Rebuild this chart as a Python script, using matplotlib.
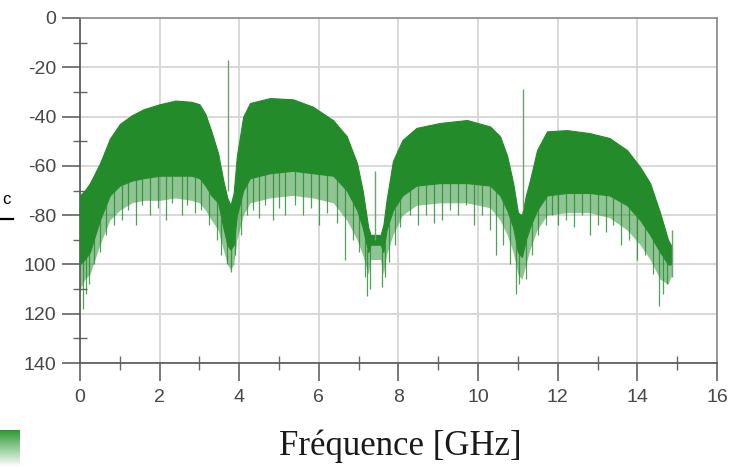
import numpy as np
import matplotlib
matplotlib.use("Agg")
import matplotlib.pyplot as plt
from matplotlib.lines import Line2D
from matplotlib.colors import LinearSegmentedColormap
from matplotlib.ticker import MultipleLocator, FixedLocator, FixedFormatter

# ---------------- data ----------------
freq_ghz = [0.0, 0.12, 0.25, 0.5, 0.75, 1.0, 1.3, 1.6, 2.0, 2.4, 2.8, 3.0, 3.15, 3.3,
            3.47, 3.6, 3.7, 3.78, 3.86, 3.94, 4.1, 4.27, 4.77, 5.35, 5.85, 6.36, 6.7,
            6.96, 7.1, 7.24, 7.3, 7.55, 7.62, 7.7, 7.86, 8.1, 8.45, 9.04, 9.72, 10.3,
            10.55, 10.73, 10.88, 11.0, 11.1, 11.2, 11.3, 11.48, 11.73, 12.23, 12.8,
            13.3, 13.74, 14.07, 14.32, 14.57, 14.77, 14.87]
upper_db = [-72, -70, -67, -59, -49, -43, -39.5, -37, -35, -33.5, -34, -35, -39, -46,
            -55, -66, -73, -76, -71, -56, -40, -34.5, -32.5, -33, -36, -41.5, -48,
            -59, -70, -85, -88, -88, -84, -74, -58, -49.5, -44.6, -42.6, -41.4, -44,
            -48, -56, -67, -79, -80, -72, -66, -53.6, -46, -45.5, -46.7,
            -48.7, -53.6, -60.5, -67, -79, -90, -93]
dense_low_db = [-100, -98, -95, -82, -72, -68, -66, -65, -64, -64, -64, -65, -68, -72,
                -75, -85, -92, -94, -92, -80, -70, -65, -63, -62, -63, -64, -70,
                -78, -85, -95, -92, -92, -95, -86, -78, -72, -68, -67, -67, -68,
                -72, -78, -85, -95, -97, -90, -85, -78, -72, -71, -71,
                -72, -76, -82, -88, -95, -100, -100]
fringe_db = [-110, -106, -104, -92, -82, -78, -75, -74, -74, -73, -74, -75, -78, -82,
             -86, -94, -100, -102, -100, -90, -80, -75, -73, -72, -73, -75, -82,
             -90, -96, -104, -98, -98, -104, -96, -88, -80, -76, -75, -75, -77,
             -82, -88, -95, -104, -106, -100, -94, -86, -80, -79, -79,
             -81, -86, -92, -98, -106, -108, -104]

spike_ghz = [0.08, 0.15, 0.22, 0.35, 0.5, 0.65, 0.85, 1.05, 1.2, 1.4, 1.55, 1.75, 1.95,
             2.15, 2.3, 2.55, 2.7, 2.9, 3.05, 3.25, 3.45, 3.55, 3.68, 3.8, 3.9,
             4.05, 4.2, 4.35, 4.5, 4.65, 4.85, 5.0, 5.15, 5.4, 5.6, 5.8, 6.0, 6.2, 6.45,
             6.65, 6.85, 7.0, 7.15, 7.22, 7.28, 7.58, 7.65,
             7.75, 7.9, 8.05, 8.3, 8.5, 8.7, 8.9, 9.1, 9.3, 9.5, 9.7, 9.9, 10.1, 10.3,
             10.45, 10.62, 10.8, 10.95, 11.02,
             11.2, 11.35, 11.5, 11.7, 11.85, 12.0, 12.2, 12.4, 12.6, 12.8, 13.0, 13.2,
             13.4, 13.6, 13.8, 14.0, 14.2, 14.4, 14.55, 14.65, 14.75]
spike_db = [-118, -112, -108, -100, -95, -88, -84, -82, -78, -84, -76, -80, -77,
            -82, -75, -80, -76, -79, -78, -84, -90, -96, -100, -103, -96,
            -88, -80, -78, -81, -76, -82, -77, -80, -76, -80, -77, -84, -79, -83,
            -98, -90, -95, -105, -113, -110, -109, -105,
            -99, -92, -85, -80, -84, -80, -83, -82, -78, -80, -76, -84, -80, -86,
            -96, -92, -100, -112, -108,
            -106, -96, -88, -84, -80, -84, -82, -85, -80, -88, -84, -87,
            -84, -92, -90, -98, -96, -104, -117, -112, -108]

carrier_ghz = [3.72, 7.41, 11.13, 14.86]
carrier_top_db = [-17, -62, -29, -86]
carrier_base_db = [-70, -90, -78, -105]

x_ticks = [0, 2, 4, 6, 8, 10, 12, 14, 16]
x_tick_labels = ["0", "2", "4", "6", "8", "10", "12", "14", "16"]
y_ticks = [0, -20, -40, -60, -80, -100, -120, -140]
y_tick_labels = ["0", "-20", "-40", "-60", "-80", "100", "120", "140"]
x_label = "Fréquence [GHz]"

# ---------------- figure ----------------
W, H = 737, 467
fig = plt.figure(figsize=(W / 100, H / 100), dpi=100)
fig.patch.set_facecolor("white")
ax = fig.add_axes([80 / W, 1 - 363 / H, (717 - 80) / W, (363 - 18) / H])

green = "#238b2a"
ax.fill_between(freq_ghz, fringe_db, dense_low_db, color=green, alpha=0.5,
                linewidth=0, zorder=2)
ax.fill_between(freq_ghz, dense_low_db, upper_db, color=green, linewidth=0.8,
                edgecolor=green, zorder=3)
spike_base = np.interp(spike_ghz, freq_ghz, dense_low_db)
ax.vlines(spike_ghz, spike_db, spike_base, color=green, linewidth=0.9, alpha=0.8,
          zorder=3)
ax.vlines(carrier_ghz, carrier_base_db, carrier_top_db, color="#6f9f72",
          linewidth=1.0, zorder=4)

ax.set_xlim(0, 16)
ax.set_ylim(-140, 0)
ax.xaxis.set_major_locator(FixedLocator(x_ticks))
ax.xaxis.set_major_formatter(FixedFormatter(x_tick_labels))
ax.yaxis.set_major_locator(FixedLocator(y_ticks))
ax.yaxis.set_major_formatter(FixedFormatter(y_tick_labels))
ax.xaxis.set_minor_locator(MultipleLocator(1))
ax.yaxis.set_minor_locator(MultipleLocator(10))

ax.grid(True, which="major", color="#d6d6d6", linewidth=1.3, zorder=0)
ax.set_axisbelow(True)

ax.tick_params(which="major", direction="out", length=13, width=1.1,
               color="#555555", labelcolor="#474747", pad=4)
ax.tick_params(axis="x", which="major", pad=6)
ax.tick_params(which="minor", direction="inout", length=10, width=1.0,
               color="#666666")
for lab in ax.get_xticklabels() + ax.get_yticklabels():
    lab.set_fontfamily(["Liberation Sans", "DejaVu Sans"])
    lab.set_fontsize(14)

for side in ["left", "bottom"]:
    ax.spines[side].set_color("#555555")
    ax.spines[side].set_linewidth(1.2)
for side in ["top", "right"]:
    ax.spines[side].set_color("#8a8a8a")
    ax.spines[side].set_linewidth(1.2)

fig.text(400 / W, 1 - 455 / H, x_label, ha="center", va="baseline",
         family=["Liberation Serif", "DejaVu Serif"], fontsize=25, color="#1a1a1a")

# left-edge fragments (label remnant) and bottom-left gradient box
fig.add_artist(Line2D([0, 13 / W], [1 - 219 / H, 1 - 219 / H], color="black",
                      linewidth=1.6, transform=fig.transFigure))
fig.text(2 / W, 1 - 204 / H, "c", ha="left", va="baseline",
         family=["Liberation Sans"], fontsize=12, color="black")
box = fig.add_axes([0, 0, 20 / W, 37 / H])
grad = np.linspace(0, 1, 64).reshape(-1, 1)
cmap = LinearSegmentedColormap.from_list("g", ["#2d9a33", "#ffffff"])
box.imshow(grad, aspect="auto", cmap=cmap, extent=[0, 1, 0, 1])
box.axis("off")

fig.savefig("out.png", dpi=100)
